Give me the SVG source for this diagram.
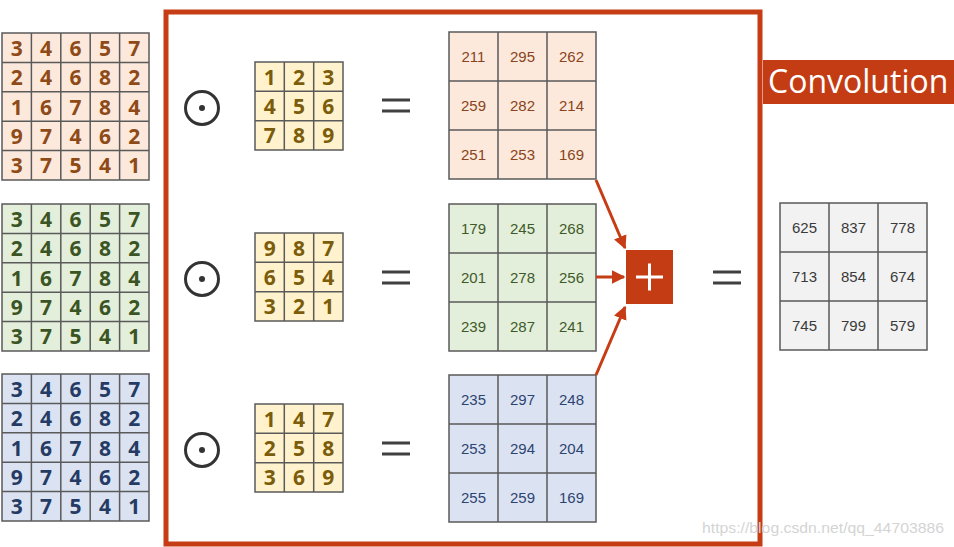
<svg xmlns="http://www.w3.org/2000/svg" xmlns:xlink="http://www.w3.org/1999/xlink" width="954" height="547" viewBox="0 0 954 547">
<style>
.grid{fill:none;stroke:#5a5a5a;stroke-width:1.5}
.big{font-family:"Open Sans","Noto Sans",sans-serif;font-weight:bold;font-size:21px;text-anchor:middle;dominant-baseline:central}
.num{font-family:"Liberation Sans",Arial,sans-serif;font-size:15px;text-anchor:middle;dominant-baseline:central}
.o{fill:#8e4a17}.g{fill:#3b5424}.b{fill:#253b63}.k{fill:#7a5c0a}.ro{fill:#8a4420}.rg{fill:#3f5a2a}.rb{fill:#2e4470}.gr{fill:#3a3a3a}
.odot{fill:none;stroke:#333;stroke-width:3}
.eq{stroke:#404040;stroke-width:3}
.arr{stroke:#c63d15;stroke-width:3;fill:none;marker-end:url(#ah)}
</style>
<defs>
<g id="g5"><rect x="0" y="0" width="147" height="147"/><path d="M29.4 0V147M58.8 0V147M88.2 0V147M117.6 0V147M0 29.4H147M0 58.8H147M0 88.2H147M0 117.6H147"/></g>
<g id="g3s"><rect x="0" y="0" width="88" height="88"/><path d="M29.3 0V88M58.7 0V88M0 29.3H88M0 58.7H88"/></g>
<g id="g3b"><rect x="0" y="0" width="147" height="147"/><path d="M49 0V147M98 0V147M0 49H147M0 98H147"/></g>
<marker id="ah" viewBox="0 0 10 10" refX="9" refY="5" markerWidth="4.5" markerHeight="4.5" orient="auto"><path d="M0 0L10 5L0 10z" fill="#c63d15"/></marker>
</defs>
<rect width="954" height="547" fill="#fff"/>

<g id="frame"><rect x="166" y="12" width="594" height="532" fill="none" stroke="#c63d15" stroke-width="5"/></g>
<g id="label"><rect x="763" y="60" width="191" height="44" fill="#c43c14"/><text x="768" y="93" font-family="'Open Sans','Noto Sans',sans-serif" font-size="32" fill="#fff">Convolution</text></g>

<g id="in1"><rect x="2" y="33" width="147" height="147" fill="#fce9dc"/><use xlink:href="#g5" x="2" y="33" class="grid"/>
<g class="big o">
<text x="16.7" y="47.7">3</text><text x="46.1" y="47.7">4</text><text x="75.5" y="47.7">6</text><text x="104.9" y="47.7">5</text><text x="134.3" y="47.7">7</text>
<text x="16.7" y="77.1">2</text><text x="46.1" y="77.1">4</text><text x="75.5" y="77.1">6</text><text x="104.9" y="77.1">8</text><text x="134.3" y="77.1">2</text>
<text x="16.7" y="106.5">1</text><text x="46.1" y="106.5">6</text><text x="75.5" y="106.5">7</text><text x="104.9" y="106.5">8</text><text x="134.3" y="106.5">4</text>
<text x="16.7" y="135.9">9</text><text x="46.1" y="135.9">7</text><text x="75.5" y="135.9">4</text><text x="104.9" y="135.9">6</text><text x="134.3" y="135.9">2</text>
<text x="16.7" y="165.3">3</text><text x="46.1" y="165.3">7</text><text x="75.5" y="165.3">5</text><text x="104.9" y="165.3">4</text><text x="134.3" y="165.3">1</text>
</g></g>

<g id="in2"><rect x="2" y="204" width="147" height="147" fill="#e3efda"/><use xlink:href="#g5" x="2" y="204" class="grid"/>
<g class="big g">
<text x="16.7" y="218.7">3</text><text x="46.1" y="218.7">4</text><text x="75.5" y="218.7">6</text><text x="104.9" y="218.7">5</text><text x="134.3" y="218.7">7</text>
<text x="16.7" y="248.1">2</text><text x="46.1" y="248.1">4</text><text x="75.5" y="248.1">6</text><text x="104.9" y="248.1">8</text><text x="134.3" y="248.1">2</text>
<text x="16.7" y="277.5">1</text><text x="46.1" y="277.5">6</text><text x="75.5" y="277.5">7</text><text x="104.9" y="277.5">8</text><text x="134.3" y="277.5">4</text>
<text x="16.7" y="306.9">9</text><text x="46.1" y="306.9">7</text><text x="75.5" y="306.9">4</text><text x="104.9" y="306.9">6</text><text x="134.3" y="306.9">2</text>
<text x="16.7" y="336.3">3</text><text x="46.1" y="336.3">7</text><text x="75.5" y="336.3">5</text><text x="104.9" y="336.3">4</text><text x="134.3" y="336.3">1</text>
</g></g>

<g id="in3"><rect x="2" y="374" width="147" height="147" fill="#dbe3f3"/><use xlink:href="#g5" x="2" y="374" class="grid"/>
<g class="big b">
<text x="16.7" y="388.7">3</text><text x="46.1" y="388.7">4</text><text x="75.5" y="388.7">6</text><text x="104.9" y="388.7">5</text><text x="134.3" y="388.7">7</text>
<text x="16.7" y="418.1">2</text><text x="46.1" y="418.1">4</text><text x="75.5" y="418.1">6</text><text x="104.9" y="418.1">8</text><text x="134.3" y="418.1">2</text>
<text x="16.7" y="447.5">1</text><text x="46.1" y="447.5">6</text><text x="75.5" y="447.5">7</text><text x="104.9" y="447.5">8</text><text x="134.3" y="447.5">4</text>
<text x="16.7" y="476.9">9</text><text x="46.1" y="476.9">7</text><text x="75.5" y="476.9">4</text><text x="104.9" y="476.9">6</text><text x="134.3" y="476.9">2</text>
<text x="16.7" y="506.3">3</text><text x="46.1" y="506.3">7</text><text x="75.5" y="506.3">5</text><text x="104.9" y="506.3">4</text><text x="134.3" y="506.3">1</text>
</g></g>

<g id="ops">
<circle cx="202" cy="108" r="16.5" class="odot"/><circle cx="202" cy="108" r="3" fill="#333"/>
<circle cx="202" cy="279" r="16.5" class="odot"/><circle cx="202" cy="279" r="3" fill="#333"/>
<circle cx="202" cy="450" r="16.5" class="odot"/><circle cx="202" cy="450" r="3" fill="#333"/>
<path class="eq" d="M382 100H410M382 111H410M382 272H410M382 283H410M382 443H410M382 454H410M713 272H741M713 283H741"/>
</g>

<g id="k1"><rect x="255" y="62" width="88" height="88" fill="#fff2cc"/><use xlink:href="#g3s" x="255" y="62" class="grid"/>
<g class="big k"><text x="269.7" y="76.7">1</text><text x="299" y="76.7">2</text><text x="328.3" y="76.7">3</text>
<text x="269.7" y="106">4</text><text x="299" y="106">5</text><text x="328.3" y="106">6</text>
<text x="269.7" y="135.3">7</text><text x="299" y="135.3">8</text><text x="328.3" y="135.3">9</text></g></g>

<g id="k2"><rect x="255" y="233" width="88" height="88" fill="#fff2cc"/><use xlink:href="#g3s" x="255" y="233" class="grid"/>
<g class="big k"><text x="269.7" y="247.7">9</text><text x="299" y="247.7">8</text><text x="328.3" y="247.7">7</text>
<text x="269.7" y="277">6</text><text x="299" y="277">5</text><text x="328.3" y="277">4</text>
<text x="269.7" y="306.3">3</text><text x="299" y="306.3">2</text><text x="328.3" y="306.3">1</text></g></g>

<g id="k3"><rect x="255" y="404" width="88" height="88" fill="#fff2cc"/><use xlink:href="#g3s" x="255" y="404" class="grid"/>
<g class="big k"><text x="269.7" y="418.7">1</text><text x="299" y="418.7">4</text><text x="328.3" y="418.7">7</text>
<text x="269.7" y="448">2</text><text x="299" y="448">5</text><text x="328.3" y="448">8</text>
<text x="269.7" y="477.3">3</text><text x="299" y="477.3">6</text><text x="328.3" y="477.3">9</text></g></g>

<g id="r1"><rect x="449" y="32" width="147" height="147" fill="#fce9dc"/><use xlink:href="#g3b" x="449" y="32" class="grid"/>
<g class="num ro"><text x="473.5" y="56.5">211</text><text x="522.5" y="56.5">295</text><text x="571.5" y="56.5">262</text>
<text x="473.5" y="105.5">259</text><text x="522.5" y="105.5">282</text><text x="571.5" y="105.5">214</text>
<text x="473.5" y="154.5">251</text><text x="522.5" y="154.5">253</text><text x="571.5" y="154.5">169</text></g></g>

<g id="r2"><rect x="449" y="204" width="147" height="147" fill="#e3efda"/><use xlink:href="#g3b" x="449" y="204" class="grid"/>
<g class="num rg"><text x="473.5" y="228.5">179</text><text x="522.5" y="228.5">245</text><text x="571.5" y="228.5">268</text>
<text x="473.5" y="277.5">201</text><text x="522.5" y="277.5">278</text><text x="571.5" y="277.5">256</text>
<text x="473.5" y="326.5">239</text><text x="522.5" y="326.5">287</text><text x="571.5" y="326.5">241</text></g></g>

<g id="r3"><rect x="449" y="375" width="147" height="147" fill="#dbe3f3"/><use xlink:href="#g3b" x="449" y="375" class="grid"/>
<g class="num rb"><text x="473.5" y="399.5">235</text><text x="522.5" y="399.5">297</text><text x="571.5" y="399.5">248</text>
<text x="473.5" y="448.5">253</text><text x="522.5" y="448.5">294</text><text x="571.5" y="448.5">204</text>
<text x="473.5" y="497.5">255</text><text x="522.5" y="497.5">259</text><text x="571.5" y="497.5">169</text></g></g>

<g id="connectors">
<path class="arr" d="M596 180L625 248"/>
<path class="arr" d="M596 277H624"/>
<path class="arr" d="M596 375L625 307"/>
</g>

<g id="plus"><rect x="626" y="250" width="47" height="54" fill="#c43c14"/><path d="M636 277H663M649.5 263.5V290.5" stroke="#fff" stroke-width="3"/></g>

<g id="out"><rect x="780" y="203" width="147" height="147" fill="#f2f2f2"/><use xlink:href="#g3b" x="780" y="203" class="grid"/>
<g class="num gr"><text x="804.5" y="227.5">625</text><text x="853.5" y="227.5">837</text><text x="902.5" y="227.5">778</text>
<text x="804.5" y="276.5">713</text><text x="853.5" y="276.5">854</text><text x="902.5" y="276.5">674</text>
<text x="804.5" y="325.5">745</text><text x="853.5" y="325.5">799</text><text x="902.5" y="325.5">579</text></g></g>

<text x="702" y="533" font-family="'Liberation Sans',Arial,sans-serif" font-size="15" textLength="242" lengthAdjust="spacingAndGlyphs" fill="#d4d4d4">https://blog.csdn.net/qq_44703886</text>
</svg>
